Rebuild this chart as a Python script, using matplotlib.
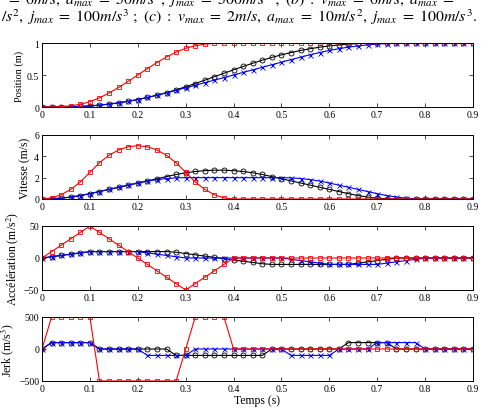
import matplotlib
matplotlib.use("Agg")
import matplotlib.pyplot as plt

plt.rcParams['font.family'] = ['Liberation Serif', 'DejaVu Serif']
plt.rcParams['mathtext.fontset'] = 'stix'

# time samples (s)
t = [0.00, 0.02, 0.04, 0.06, 0.08, 0.10, 0.12, 0.14, 0.16, 0.18,
     0.20, 0.22, 0.24, 0.26, 0.28, 0.30, 0.32, 0.34, 0.36, 0.38,
     0.40, 0.42, 0.44, 0.46, 0.48, 0.50, 0.52, 0.54, 0.56, 0.58,
     0.60, 0.62, 0.64, 0.66, 0.68, 0.70, 0.72, 0.74, 0.76, 0.78,
     0.80, 0.82, 0.84, 0.86, 0.88, 0.90]

# (a) red
pos_a = [0, 0.001, 0.005, 0.018, 0.043, 0.083, 0.143, 0.218, 0.305, 0.401,
         0.5, 0.599, 0.695, 0.782, 0.857, 0.917, 0.957, 0.982, 0.995, 0.999] + [1.0] * 26
vel_a = [0, 0.1, 0.4, 0.9, 1.6, 2.5, 3.4, 4.1, 4.6, 4.9,
         5.0, 4.9, 4.6, 4.1, 3.4, 2.5, 1.6, 0.9, 0.4, 0.1] + [0.0] * 26
acc_a = [0, 10, 20, 30, 40, 50, 40, 30, 20, 10,
         0, -10, -20, -30, -40, -50, -40, -30, -20, -10] + [0] * 26
jerk_a = [0, 500, 500, 500, 500, 500, -500, -500, -500, -500,
          -500, -500, -500, -500, -500, 0, 500, 500, 500, 500] + [0] * 26

# (b) black
pos_b = [0, 0.0001, 0.001, 0.004, 0.009, 0.017, 0.029, 0.045, 0.065, 0.089,
         0.117, 0.149, 0.185, 0.225, 0.269, 0.316, 0.367, 0.419, 0.473, 0.527,
         0.581, 0.633, 0.684, 0.731, 0.775, 0.815, 0.851, 0.883, 0.911, 0.935,
         0.955, 0.971, 0.983, 0.991, 0.996, 0.999, 1.0, 1.0, 1.0, 1.0,
         1.0, 1.0, 1.0, 1.0, 1.0, 1.0]
vel_b = [0, 0.02, 0.08, 0.18, 0.32, 0.5, 0.7, 0.9, 1.1, 1.3,
         1.5, 1.7, 1.9, 2.1, 2.3, 2.46, 2.58, 2.66, 2.7, 2.7,
         2.66, 2.58, 2.46, 2.3, 2.1, 1.9, 1.7, 1.5, 1.3, 1.1,
         0.9, 0.7, 0.5, 0.32, 0.18, 0.08, 0.02, 0, 0, 0,
         0, 0, 0, 0, 0, 0]
acc_b = [0, 2, 4, 6, 8, 10, 10, 10, 10, 10,
         10, 10, 10, 10, 9, 7, 5, 3, 1, -1,
         -3, -5, -7, -9, -10, -10, -10, -10, -10, -10,
         -10, -10, -10, -8, -6, -4, -2, 0, 0, 0,
         0, 0, 0, 0, 0, 0]
jerk_b = [0, 100, 100, 100, 100, 100, 0, 0, 0, 0,
          0, 0, 0, 0, -100, -100, -100, -100, -100, -100,
          -100, -100, -100, -100, 0, 0, 0, 0, 0, 0,
          0, 0, 100, 100, 100, 100, 100, 0, 0, 0,
          0, 0, 0, 0, 0, 0]

# (c) blue
pos_c = [0, 0.0001, 0.001, 0.004, 0.009, 0.017, 0.029, 0.045, 0.065, 0.089,
         0.117, 0.149, 0.184, 0.221, 0.260, 0.3, 0.34, 0.38, 0.42, 0.46,
         0.5, 0.54, 0.58, 0.62, 0.66, 0.7, 0.74, 0.779, 0.816, 0.851,
         0.883, 0.911, 0.935, 0.955, 0.971, 0.983, 0.991, 0.996, 0.999, 1.0,
         1.0, 1.0, 1.0, 1.0, 1.0, 1.0]
vel_c = [0, 0.02, 0.08, 0.18, 0.32, 0.5, 0.7, 0.9, 1.1, 1.3,
         1.5, 1.68, 1.82, 1.92, 1.98, 2.0, 2.0, 2.0, 2.0, 2.0,
         2.0, 2.0, 2.0, 2.0, 2.0, 2.0, 1.98, 1.92, 1.82, 1.68,
         1.5, 1.3, 1.1, 0.9, 0.7, 0.5, 0.32, 0.18, 0.08, 0.02,
         0, 0, 0, 0, 0, 0]
acc_c = [0, 2, 4, 6, 8, 10, 10, 10, 10, 10,
         10, 8, 6, 4, 2, 0, 0, 0, 0, 0,
         0, 0, 0, 0, 0, 0, -2, -4, -6, -8,
         -10, -10, -10, -10, -10, -10, -8, -6, -4, -2,
         0, 0, 0, 0, 0, 0]
jerk_c = [0, 100, 100, 100, 100, 100, 0, 0, 0, 0,
          0, -100, -100, -100, -100, -100, 0, 0, 0, 0,
          0, 0, 0, 0, 0, 0, -100, -100, -100, -100,
          -100, 0, 0, 0, 0, 100, 100, 100, 100, 100,
          0, 0, 0, 0, 0, 0]

ylabels = ["Position (m)", "Vitesse (m/s)", r"Accélération (m/s$^2$)", r"Jerk (m/s$^3$)"]
ylabel_sizes = [7.5, 8.5, 8.5, 8.5]
ylims = [(0, 1), (0, 6), (-50, 50), (-500, 500)]
yticks = [[0, 0.5, 1], [0, 2, 4, 6], [-50, 0, 50], [-500, 0, 500]]
ytick_labels = [["0", "0.5", "1"], ["0", "2", "4", "6"], ["−50", "0", "50"], ["−500", "0", "500"]]
xticks = [0, 0.1, 0.2, 0.3, 0.4, 0.5, 0.6, 0.7, 0.8, 0.9]
xtick_labels = ["0", "0.1", "0.2", "0.3", "0.4", "0.5", "0.6", "0.7", "0.8", "0.9"]

data = [(pos_a, pos_b, pos_c), (vel_a, vel_b, vel_c),
        (acc_a, acc_b, acc_c), (jerk_a, jerk_b, jerk_c)]

fig = plt.figure(figsize=(5.03, 4.14), dpi=100)
W, H = 503, 414
left_px, right_px = 42, 473
panels_px = [(44, 108), (136, 200), (227, 291), (318, 382)]

for k, (top, bot) in enumerate(panels_px):
    ax = fig.add_axes([left_px / W, 1 - bot / H, (right_px - left_px) / W, (bot - top) / H])
    ya, yb, yc = data[k]
    ax.plot(t, yb, color='black', lw=0.8, marker='o', ms=3.6, mfc='none', mew=0.6)
    ax.plot(t, yc, color='blue', lw=0.8, marker='x', ms=3.6, mew=0.6)
    ax.plot(t, ya, color='red', lw=0.8, marker='s', ms=3.3, mfc='none', mew=0.6)
    ax.set_xlim(0, 0.9)
    ax.set_ylim(*ylims[k])
    ax.set_xticks(xticks)
    ax.set_xticklabels(xtick_labels)
    ax.set_yticks(yticks[k])
    ax.set_yticklabels(ytick_labels[k])
    ax.tick_params(direction='in', top=True, right=True, labelsize=7, length=3,
                   width=0.5, pad=2)
    for s in ax.spines.values():
        s.set_linewidth(0.7)
    ax.set_ylabel(ylabels[k], fontsize=ylabel_sizes[k], labelpad=2)
    if k == 3:
        ax.set_xlabel("Temps (s)", fontsize=8.5, labelpad=1)

line1 = (r"$=\ 6m/s,\ a_{max}\ =\ 50m/s^2,\ j_{max}\ =\ 500m/s^3\ ;\ (b)\ :\ "
         r"v_{max}\ =\ 6m/s,\ a_{max}\ =$")
line2 = (r"$/s^2,\ j_{max}\ =\ 100m/s^3\ ;\ (c)\ :\ v_{max}\ =\ 2m/s,\ "
         r"a_{max}\ =\ 10m/s^2,\ j_{max}\ =\ 100m/s^3.$")
fig.text(6 / W, 1 - 5 / H, line1, fontsize=11.4, va='baseline', ha='left')
fig.text(1 / W, 1 - 22 / H, line2, fontsize=11.4, va='baseline', ha='left')

fig.savefig("out.png", dpi=100)
